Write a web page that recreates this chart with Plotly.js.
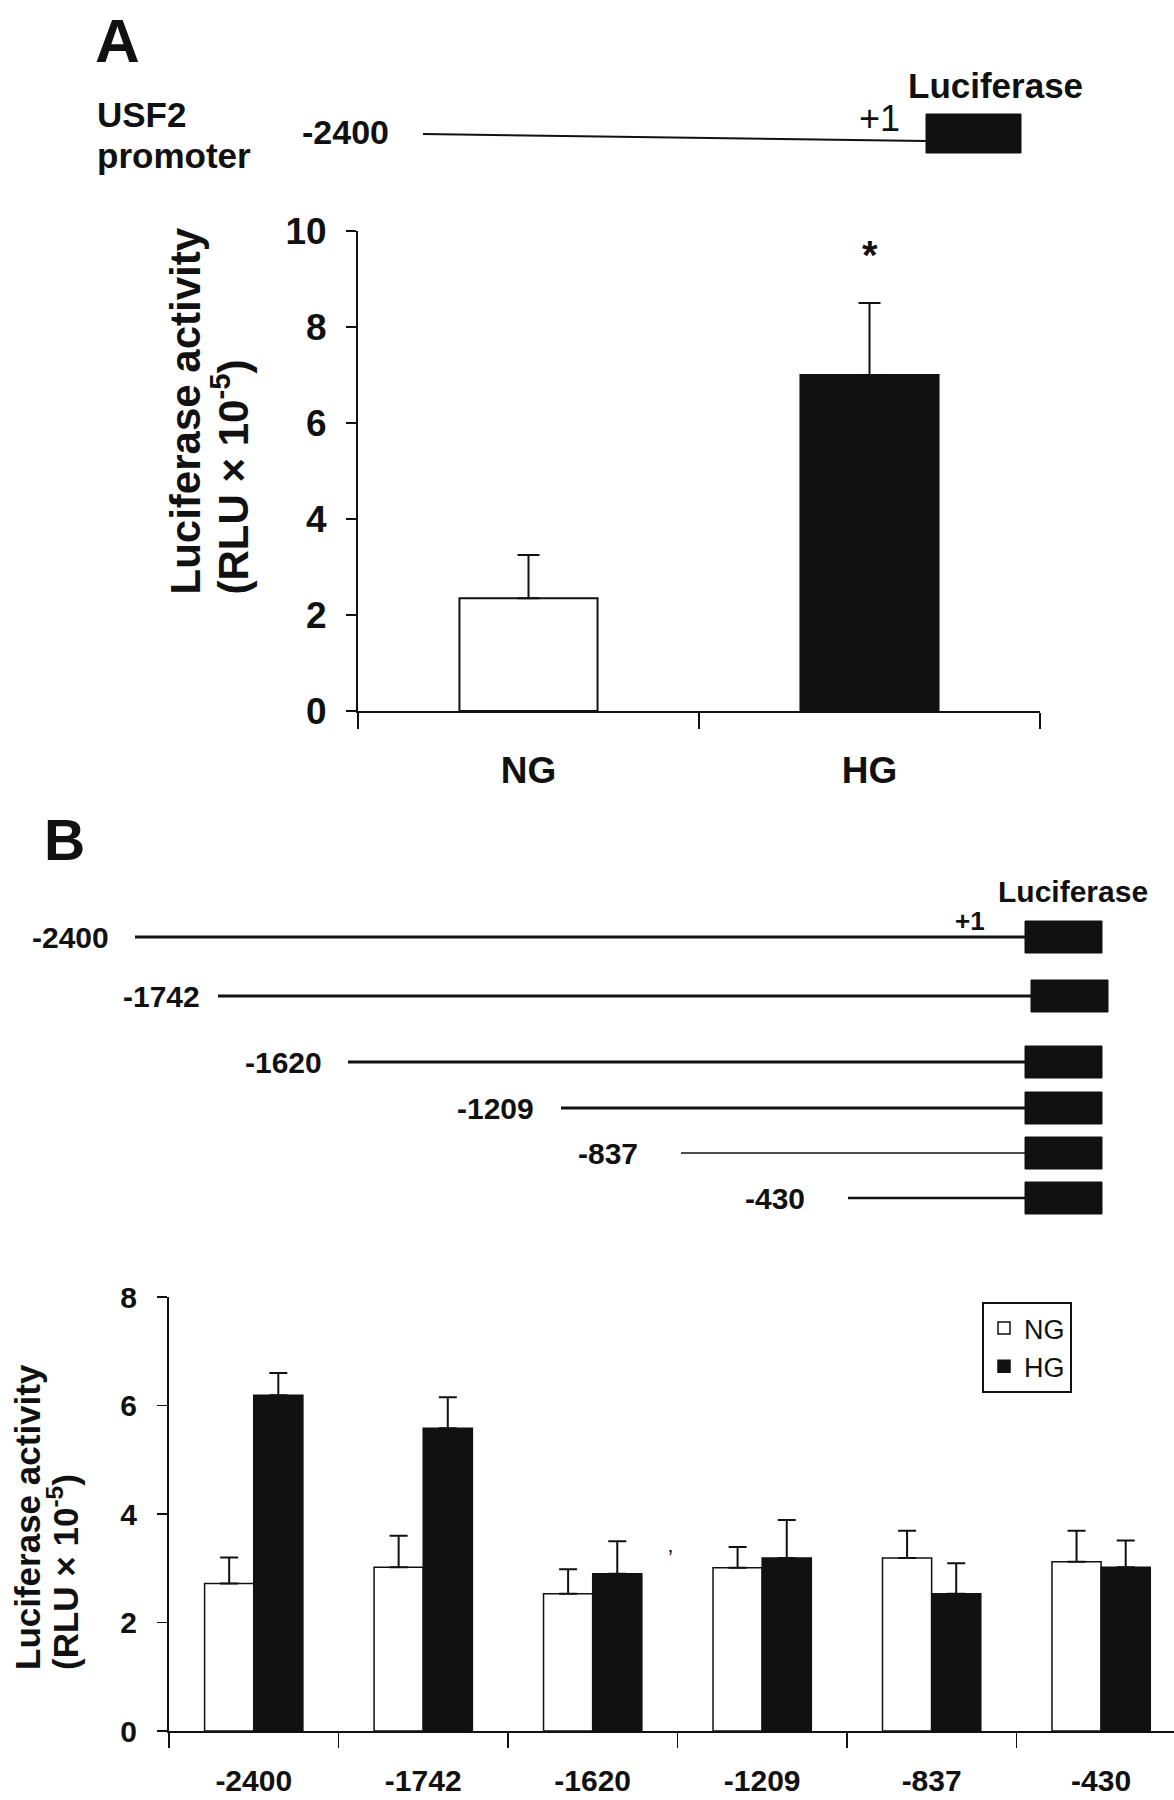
<!DOCTYPE html>
<html><head><meta charset="utf-8">
<script src="https://cdn.plot.ly/plotly-3.0.1.min.js"></script>
<style>html,body{margin:0;padding:0;background:#fff}</style>
</head><body><div id="chart" style="width:1174px;height:1800px"></div>
<script>
// ---------- DATA ----------
const groupsA = ['NG', 'HG'];
const meanA = [2.35, 7.0];
const errA = [0.9, 1.5];

const constructs = ['-2400', '-1742', '-1620', '-1209', '-837', '-430'];
const ngMean = [2.72, 3.02, 2.53, 3.01, 3.19, 3.12];
const ngErr  = [0.48, 0.58, 0.45, 0.38, 0.50, 0.57];
const hgMean = [6.19, 5.58, 2.90, 3.19, 2.53, 3.02];
const hgErr  = [0.41, 0.57, 0.60, 0.70, 0.56, 0.49];

const yTicksA = [0, 2, 4, 6, 8, 10];
const yTicksB = [0, 2, 4, 6, 8];

// ---------- LAYOUT HELPERS ----------
const W = 1174, H = 1800;
const px = x => x / W;
const py = y => 1 - y / H;
const FONT = '"Liberation Sans", Arial, Helvetica, sans-serif';
const INK = '#111111';
const zeros = n => new Array(n).fill(0);

// schematic geometry (pixel layout of the construct diagrams)
const rowY      = [937, 996, 1062, 1108, 1153, 1198];
const rowLabelR = [111, 202, 324, 536, 640, 807];
const lineStart = [135, 218, 348, 561, 681, 848];
const lineW     = [3, 3, 3, 3, 1.5, 2.5];
const boxL      = [1025, 1031, 1025, 1025, 1025, 1025];
const boxW = 77, boxH = 32;

// ---------- TRACES ----------
const traces = [
  {
    type: 'bar', x: groupsA, y: meanA, xaxis: 'x', yaxis: 'y', width: 0.405,
    marker: {color: ['#ffffff', INK], line: {color: INK, width: 2}},
    error_y: {type: 'data', symmetric: false, array: errA, arrayminus: zeros(errA.length),
              color: INK, thickness: 2, width: 11},
    showlegend: false, hoverinfo: 'skip'
  },
  {
    type: 'bar', name: 'NG', x: constructs, y: ngMean, xaxis: 'x2', yaxis: 'y2',
    marker: {color: '#ffffff', line: {color: INK, width: 1.5}},
    error_y: {type: 'data', symmetric: false, array: ngErr, arrayminus: zeros(ngErr.length),
              color: INK, thickness: 2, width: 9},
    hoverinfo: 'skip'
  },
  {
    type: 'bar', name: 'HG', x: constructs, y: hgMean, xaxis: 'x2', yaxis: 'y2',
    marker: {color: INK, line: {color: INK, width: 1.5}},
    error_y: {type: 'data', symmetric: false, array: hgErr, arrayminus: zeros(hgErr.length),
              color: INK, thickness: 2, width: 9},
    hoverinfo: 'skip'
  }
];

// ---------- SHAPES ----------
const shapes = [];
// Panel A promoter schematic
shapes.push({type: 'line', xref: 'paper', yref: 'paper', x0: px(423), y0: py(134), x1: px(926), y1: py(141),
             line: {color: INK, width: 2}});
shapes.push({type: 'rect', xref: 'paper', yref: 'paper', x0: px(926), y0: py(153), x1: px(1021), y1: py(114),
             fillcolor: INK, line: {color: INK, width: 1}});
// Panel B constructs
for (let i = 0; i < constructs.length; i++) {
  shapes.push({type: 'line', xref: 'paper', yref: 'paper', x0: px(lineStart[i]), y0: py(rowY[i]),
               x1: px(boxL[i]), y1: py(rowY[i]), line: {color: INK, width: lineW[i]}});
  shapes.push({type: 'rect', xref: 'paper', yref: 'paper', x0: px(boxL[i]), y0: py(rowY[i] + boxH / 2),
               x1: px(boxL[i] + boxW), y1: py(rowY[i] - boxH / 2), fillcolor: INK, line: {color: INK, width: 1}});
}

// ---------- ANNOTATIONS ----------
function txt(text, x, y, size, opts) {
  return Object.assign({
    text: text, xref: 'paper', yref: 'paper', x: px(x), y: py(y), showarrow: false,
    xanchor: 'left', yanchor: 'middle',
    font: {family: FONT, size: size, color: INK, weight: 'bold'}
  }, opts || {});
}
const annotations = [
  txt('A', 93, 40, 62),
  txt('USF2', 95, 115, 35),
  txt('promoter', 95, 155, 35),
  txt('-2400', 345, 132, 34, {xanchor: 'center'}),
  txt('+1', 879, 118, 36, {xanchor: 'center', font: {family: FONT, size: 36, color: INK, weight: 'normal'}}),
  txt('Luciferase', 906, 85, 35),
  // panel A y title
  txt('Luciferase activity', 185, 597, 42, {xanchor: 'center', yanchor: 'bottom', textangle: -90}),
  txt('(RLU × 10<sup>-5</sup>)', 230, 597, 42, {xanchor: 'center', yanchor: 'bottom', textangle: -90}),
  // significance star
  {text: '*', xref: 'x', yref: 'y', x: 'HG', y: 9.5, showarrow: false, xanchor: 'center', yanchor: 'middle',
   font: {family: FONT, size: 40, color: INK, weight: 'bold'}},
  // Panel B
  txt('B', 42, 840, 57),
  txt('Luciferase', 996, 891, 30),
  txt('+1', 970, 921, 26, {xanchor: 'center'}),
  // panel B y title
  txt('Luciferase activity', 27, 1672, 35, {xanchor: 'center', yanchor: 'bottom', textangle: -90}),
  txt('(RLU × 10<sup>-5</sup>)', 63, 1672, 35, {xanchor: 'center', yanchor: 'bottom', textangle: -90}),
  txt('\u2019', 671, 1557, 22, {xanchor: 'center', font: {family: FONT, size: 22, color: INK, weight: 'normal'}})
];
for (let i = 0; i < constructs.length; i++) {
  annotations.push(txt(constructs[i], rowLabelR[i], rowY[i], 30, {xanchor: 'right'}));
}

// ---------- AXES ----------
const tickFontA = {family: FONT, size: 37, color: INK, weight: 'bold'};
const tickFontB = {family: FONT, size: 30, color: INK, weight: 'bold'};
const layout = {
  width: W, height: H,
  margin: {l: 0, r: 0, t: 0, b: 0},
  paper_bgcolor: '#ffffff', plot_bgcolor: '#ffffff',
  barmode: 'group', bargap: 0.42, bargroupgap: 0,
  font: {family: FONT, color: INK},
  xaxis: {
    domain: [px(358), px(1040)], anchor: 'y', type: 'category', range: [-0.5, 1.5],
    tickson: 'boundaries', ticks: 'outside', ticklen: 16, tickwidth: 1.5, tickcolor: INK,
    showline: true, linecolor: INK, linewidth: 2, showgrid: false, zeroline: false,
    tickfont: tickFontA, ticklabelstandoff: 26, automargin: false, fixedrange: true
  },
  yaxis: {
    domain: [py(711), py(231)], anchor: 'x', range: [0, 10], tickvals: yTicksA,
    ticks: 'outside', ticklen: 10, tickwidth: 2, tickcolor: INK,
    showline: true, linecolor: INK, linewidth: 2, showgrid: false, zeroline: false,
    tickfont: tickFontA, ticklabelstandoff: 12, automargin: false, fixedrange: true
  },
  xaxis2: {
    domain: [px(169), 1], anchor: 'y2', type: 'category', range: [-0.5, 5.43],
    tickson: 'boundaries', ticks: 'outside', ticklen: 15, tickwidth: 1.5, tickcolor: INK,
    showline: true, linecolor: INK, linewidth: 2, showgrid: false, zeroline: false,
    tickfont: tickFontB, ticklabelstandoff: 22, automargin: false, fixedrange: true
  },
  yaxis2: {
    domain: [py(1731), py(1297)], anchor: 'x2', range: [0, 8], tickvals: yTicksB,
    ticks: 'outside', ticklen: 10, tickwidth: 1.5, tickcolor: INK,
    showline: true, linecolor: INK, linewidth: 2, showgrid: false, zeroline: false,
    tickfont: tickFontB, ticklabelstandoff: 14, automargin: false, fixedrange: true
  },
  showlegend: true,
  legend: {
    x: px(982), y: py(1302), xanchor: 'left', yanchor: 'top',
    bgcolor: '#ffffff', bordercolor: INK, borderwidth: 2,
    font: {family: FONT, size: 27, color: INK}, traceorder: 'normal', itemwidth: 30
  },
  shapes: shapes,
  annotations: annotations
};

Plotly.newPlot('chart', traces, layout, {displayModeBar: false, staticPlot: true});
</script>
</body></html>
